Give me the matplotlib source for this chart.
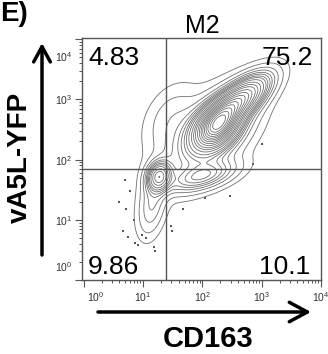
import numpy as np
import matplotlib
matplotlib.use("Agg")
import matplotlib.pyplot as plt
from matplotlib.transforms import ScaledTranslation
from matplotlib.patches import FancyArrowPatch

plt.rcParams['font.family'] = ['Liberation Sans', 'DejaVu Sans']

# ---------------- data ----------------
panel_label = "E)"
title = "M2"
x_label = "CD163"
y_label = "vA5L-YFP"
decades = [0, 1, 2, 3, 4]
tick_labels = ["$\\mathregular{10^{0}}$", "$\\mathregular{10^{1}}$", "$\\mathregular{10^{2}}$",
               "$\\mathregular{10^{3}}$", "$\\mathregular{10^{4}}$"]
gate_x = 24.0          # CD163 quadrant gate
gate_y = 71.0          # vA5L-YFP quadrant gate
quad_upper_left = "4.83"
quad_upper_right = "75.2"
quad_lower_left = "9.86"
quad_lower_right = "10.1"

# population sub-clusters (log10 units)
comp_cx = [2.25, 2.58, 2.12, 1.27, 2.00, 1.45, 1.15]
comp_cy = [2.55, 2.95, 2.40, 1.72, 1.72, 2.70, 1.25]
comp_sd_major = [0.26, 0.38, 0.55, 0.15, 0.36, 0.38, 0.33]
comp_sd_minor = [0.17, 0.15, 0.30, 0.12, 0.13, 0.24, 0.14]
comp_angle = [45, 38, 45, 70, 15, 60, 80]
comp_weight = [0.30, 0.28, 0.25, 0.05, 0.06, 0.03, 0.03]

# scattered outlier events (linear units)
outlier_x = [5.0, 4.0, 5.2, 6.9, 4.5, 5.5, 7.4, 8.3, 11, 15, 16, 30, 31, 47, 720, 110, 290, 1000, 6.0, 9.5]
outlier_y = [45, 20, 15, 9.8, 6.5, 5.1, 4.1, 3.8, 4.9, 3.6, 3.0, 7.8, 6.5, 15, 83, 23, 25, 180, 30, 5.5]

# probability contour fractions (enclosed mass)
contour_mass = [0.985, 0.96, 0.92, 0.88, 0.84, 0.80, 0.75, 0.70, 0.65, 0.60, 0.55,
                0.50, 0.45, 0.40, 0.35, 0.30, 0.25, 0.20, 0.15, 0.10, 0.05]

# ---------------- density ----------------
g = np.linspace(-0.1, 4.1, 421)
GX, GY = np.meshgrid(g, g)
Z = np.zeros_like(GX)
for cx, cy, a, b, ang, w in zip(comp_cx, comp_cy, comp_sd_major, comp_sd_minor, comp_angle, comp_weight):
    t = np.deg2rad(ang)
    dx, dy = GX - cx, GY - cy
    u = dx * np.cos(t) + dy * np.sin(t)
    v = -dx * np.sin(t) + dy * np.cos(t)
    Z += w / (2 * np.pi * a * b) * np.exp(-0.5 * ((u / a) ** 2 + (v / b) ** 2))

zs = np.sort(Z.ravel())[::-1]
cm = np.cumsum(zs) / zs.sum()
levels = sorted(set(float(zs[np.searchsorted(cm, m)]) for m in contour_mass))

# ---------------- figure ----------------
W, H = 328, 354
fig = plt.figure(figsize=(W / 100, H / 100), dpi=100)
ax = fig.add_axes([82 / W, (H - 280) / H, (321 - 82) / W, (280 - 38) / H])

ax.set_xscale('log')
ax.set_yscale('log')
ax.contour(10 ** GX, 10 ** GY, Z, levels=levels, colors='#707070', linewidths=0.6)
ax.scatter(outlier_x, outlier_y, s=2.0, c='#555555', marker='s', linewidths=0)

ax.set_xlim(10 ** -0.03, 10 ** 4)
ax.set_ylim(1, 10 ** 4.02)

ax.axvline(gate_x, color='#555555', lw=1.0)
ax.axhline(gate_y, color='#555555', lw=1.0)

for s in ax.spines.values():
    s.set_color('#555555')
    s.set_linewidth(1.0)

ticks = [10.0 ** d for d in decades]
ax.set_xticks(ticks)
ax.set_yticks(ticks)
ax.set_xticklabels(tick_labels)
ax.set_yticklabels(tick_labels)
ax.tick_params(which='major', direction='out', length=5, width=0.8, color='#555555',
               labelsize=7.5, labelcolor='#333333', pad=2)
ax.tick_params(which='minor', direction='out', length=2.5, width=0.7, color='#555555')
ax.xaxis.set_minor_locator(matplotlib.ticker.LogLocator(base=10, subs=np.arange(2, 10), numticks=20))
ax.yaxis.set_minor_locator(matplotlib.ticker.LogLocator(base=10, subs=np.arange(2, 10), numticks=20))
ax.xaxis.set_minor_formatter(matplotlib.ticker.NullFormatter())
ax.yaxis.set_minor_formatter(matplotlib.ticker.NullFormatter())

# shift end labels inward like the original software does
xl = ax.get_xticklabels()
xl[0].set_transform(xl[0].get_transform() + ScaledTranslation(12 / 100, 0, fig.dpi_scale_trans))
yl = ax.get_yticklabels()
yl[0].set_transform(yl[0].get_transform() + ScaledTranslation(0, 14 / 100, fig.dpi_scale_trans))
yl[-1].set_transform(yl[-1].get_transform() + ScaledTranslation(0, -17 / 100, fig.dpi_scale_trans))

qfs = 19
ax.text(0.025, 0.888, quad_upper_left, transform=ax.transAxes, fontsize=qfs, ha='left', va='baseline')
ax.text(0.967, 0.888, quad_upper_right, transform=ax.transAxes, fontsize=qfs, ha='right', va='baseline')
ax.text(0.025, 0.025, quad_lower_left, transform=ax.transAxes, fontsize=qfs, ha='left', va='baseline')
ax.text(0.955, 0.025, quad_lower_right, transform=ax.transAxes, fontsize=qfs, ha='right', va='baseline')

fig.text(0 / W, 1 - 21 / H, panel_label, fontsize=20, fontweight='bold', ha='left', va='baseline')
fig.text(202 / W, 1 - 33 / H, title, fontsize=18, ha='center', va='baseline')
fig.text(208 / W, 1 - 347 / H, x_label, fontsize=21, fontweight='bold', ha='center', va='baseline')
fig.text(20 / W, 1 - 157 / H, y_label, fontsize=20, fontweight='bold', ha='center', va='center',
         rotation=90)

fig.add_artist(FancyArrowPatch((42 / W, 1 - 255 / H), (42 / W, 1 - 43 / H), transform=fig.transFigure,
                               arrowstyle='->,head_length=0.55,head_width=0.3', mutation_scale=20,
                               lw=2.5, color='black', shrinkA=0, shrinkB=0))
fig.add_artist(FancyArrowPatch((98 / W, 1 - 312 / H), (311 / W, 1 - 312 / H), transform=fig.transFigure,
                               arrowstyle='->,head_length=0.65,head_width=0.35', mutation_scale=20,
                               lw=2.5, color='black', shrinkA=0, shrinkB=0))

fig.savefig('out.png', dpi=100)
